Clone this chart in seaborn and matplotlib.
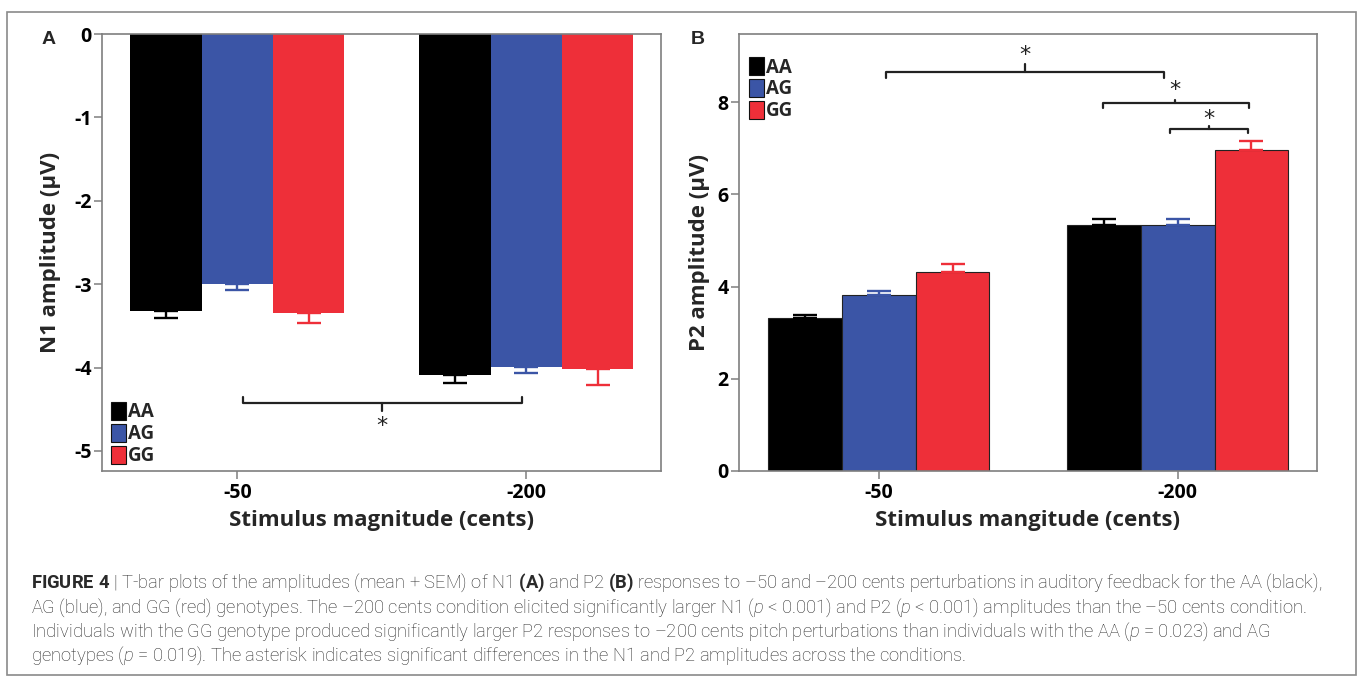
import numpy as np
import pandas as pd
import matplotlib
matplotlib.use("Agg")
import matplotlib.pyplot as plt
from matplotlib.patches import Patch, Rectangle
import seaborn as sns

# ---------------- data ----------------
conditions = ["-50", "-200"]
genotypes = ["AA", "AG", "GG"]
colors = ["#000000", "#3B55A6", "#EE2F39"]

n1_AA = [-3.32, -4.09]
n1_AG = [-3.00, -3.99]
n1_GG = [-3.34, -4.02]
n1_sem_AA = [0.08, 0.10]
n1_sem_AG = [0.07, 0.08]
n1_sem_GG = [0.13, 0.19]

p2_AA = [3.31, 5.33]
p2_AG = [3.81, 5.33]
p2_GG = [4.31, 6.96]
p2_sem_AA = [0.08, 0.13]
p2_sem_AG = [0.09, 0.13]
p2_sem_GG = [0.17, 0.20]

n1_yticks = [0, -1, -2, -3, -4, -5]
n1_ytick_labels = ["0", "-1", "-2", "-3", "-4", "-5"]
p2_yticks = [0, 2, 4, 6, 8]
p2_ytick_labels = ["0", "2", "4", "6", "8"]

caption_lines = [
    r"$\mathbf{FIGURE\ 4}$ | T-bar plots of the amplitudes (mean + SEM) of N1 $\mathbf{(A)}$ and P2 $\mathbf{(B)}$ responses to –50 and –200 cents perturbations in auditory feedback for the AA (black),",
    r"AG (blue), and GG (red) genotypes. The –200 cents condition elicited significantly larger N1 ($\mathit{p}$ < 0.001) and P2 ($\mathit{p}$ < 0.001) amplitudes than the –50 cents condition.",
    r"Individuals with the GG genotype produced significantly larger P2 responses to –200 cents pitch perturbations than individuals with the AA ($\mathit{p}$ = 0.023) and AG",
    r"genotypes ($\mathit{p}$ = 0.019). The asterisk indicates significant differences in the N1 and P2 amplitudes across the conditions.",
]

n1_df = pd.DataFrame({
    "condition": conditions * 3,
    "genotype": [g for g in genotypes for _ in conditions],
    "value": n1_AA + n1_AG + n1_GG,
})
p2_df = pd.DataFrame({
    "condition": conditions * 3,
    "genotype": [g for g in genotypes for _ in conditions],
    "value": p2_AA + p2_AG + p2_GG,
})
n1_sems = {"AA": n1_sem_AA, "AG": n1_sem_AG, "GG": n1_sem_GG}
p2_sems = {"AA": p2_sem_AA, "AG": p2_sem_AG, "GG": p2_sem_GG}

# ---------------- style ----------------
sns.set_theme(style="white")
plt.rcParams["font.family"] = ["Open Sans", "DejaVu Sans"]
plt.rcParams["mathtext.fontset"] = "custom"
plt.rcParams["mathtext.rm"] = "Roboto:light"
plt.rcParams["mathtext.it"] = "Roboto:italic:light"
plt.rcParams["mathtext.bf"] = "Roboto:bold"

W, H = 1360, 676
fig = plt.figure(figsize=(W / 100, H / 100), dpi=100)

def px_axes(x0, y0, x1, y1):
    return fig.add_axes([x0 / W, 1 - y1 / H, (x1 - x0) / W, (y1 - y0) / H])

axA = px_axes(102, 34, 661, 471)
axB = px_axes(739, 34, 1317, 471)

palette = dict(zip(genotypes, colors))

def draw(ax, df, sems, edge):
    sns.barplot(data=df, x="condition", y="value", hue="genotype",
                order=conditions, hue_order=genotypes, palette=palette,
                saturation=1, width=0.74, errorbar=None, legend=False, ax=ax,
                edgecolor=edge, linewidth=0.8 if edge != "none" else 0)
    for cont, g in zip(ax.containers, genotypes):
        for bar, s in zip(cont, sems[g]):
            xc = bar.get_x() + bar.get_width() / 2
            h = bar.get_y() + bar.get_height()
            yerr = [[0], [s]] if h >= 0 else [[s], [0]]
            ax.errorbar([xc], [h], yerr=yerr, fmt="none", ecolor=palette[g],
                        elinewidth=1.7, capsize=8.5, capthick=1.7, zorder=3)

def style(ax, yticks, ylabels, ylim, ylab, xlab, ylab_x):
    ax.set_xlim(-0.468, 1.466)
    ax.set_ylim(*ylim)
    ax.set_yticks(yticks)
    ax.set_yticklabels(ylabels)
    ax.set_xticks([0, 1])
    ax.set_xticklabels(conditions)
    for sp in ax.spines.values():
        sp.set_visible(True)
        sp.set_color("#7f7f7f")
        sp.set_linewidth(1.2)
    ax.tick_params(axis="both", direction="out", length=6, width=1.1,
                   color="#7f7f7f", labelsize=14, pad=1.5, labelcolor="black")
    ax.tick_params(axis="x", pad=3)
    ax.tick_params(left=True, bottom=True)
    for lab in ax.get_xticklabels() + ax.get_yticklabels():
        lab.set_fontweight("bold")
    ax.set_ylabel(ylab, fontsize=16, fontweight="bold")
    ax.set_xlabel(xlab, fontsize=16, fontweight="bold")
    ax.yaxis.set_label_coords(ylab_x, 0.5)
    ax.xaxis.set_label_coords(0.5, -0.114)
    ax.xaxis.label.set_va("center")
    ax.yaxis.label.set_va("center")
    ax.grid(False)

draw(axA, n1_df, n1_sems, "none")
draw(axB, p2_df, p2_sems, "#222222")

style(axA, n1_yticks, n1_ytick_labels, (-5.24, 0), "N1 amplitude (µV)",
      "Stimulus magnitude (cents)", -0.093)
style(axB, p2_yticks, p2_ytick_labels, (0, 9.48), "P2 amplitude (µV)",
      "Stimulus mangitude (cents)", -0.069)

# legends
def legend(ax, anchor):
    handles = [Patch(facecolor=c, edgecolor="#111111", linewidth=0.8, label=g)
               for g, c in zip(genotypes, colors)]
    leg = ax.legend(handles=handles, loc="upper left", bbox_to_anchor=anchor,
                    frameon=False, handlelength=0.8, handleheight=1.1,
                    handletextpad=0.12, labelspacing=0.08, borderpad=0,
                    borderaxespad=0, prop={"weight": "bold", "size": 13.5})
    return leg

legend(axA, (0.016, 0.158))
legend(axB, (0.017, 0.947))

# significance brackets
def bracket(ax, x0, x1, xc, y, yend, ytip, star_y):
    ax.plot([x0, x0, x1, x1], [yend, y, y, yend], color="#222222", lw=1.6,
            solid_joinstyle="round", solid_capstyle="round", zorder=4)
    ax.plot([xc, xc], [y, ytip], color="#222222", lw=1.6, zorder=4)
    ax.text(xc, star_y, "*", ha="center", va="center", fontsize=16,
            fontweight="normal", family="DejaVu Sans", color="#222222")

bracket(axA, 0.021, 0.986, 0.502, -4.43, -4.35, -4.52, -4.70)
bracket(axB, 0.023, 0.955, 0.49, 8.66, 8.53, 8.83, 9.02)
bracket(axB, 0.749, 1.238, 0.991, 7.99, 7.88, 8.04, 8.27)
bracket(axB, 0.974, 1.236, 1.105, 7.41, 7.34, 7.49, 7.64)

# panel letters
fig.text(42 / W, 1 - 39 / H, "A", fontsize=14, fontweight="bold",
         family=["Liberation Sans", "DejaVu Sans"], va="center", ha="left")
fig.text(691 / W, 1 - 39 / H, "B", fontsize=14, fontweight="bold",
         family=["Liberation Sans", "DejaVu Sans"], va="center", ha="left")

# caption
baselines = [588, 613, 637, 661]
for line, yb in zip(caption_lines, baselines):
    fig.text(31 / W, 1 - yb / H, line, fontsize=13.2, fontweight="light",
             family=["Roboto", "DejaVu Sans"], va="baseline",
             ha="left", color="#2a2a2a")

# outer border
fig.add_artist(Rectangle((7 / W, 1 - 675 / H), (1356 - 7) / W, (675 - 12) / H,
                         transform=fig.transFigure, fill=False,
                         edgecolor="#8a8a8a", linewidth=1.2))

fig.savefig("out.png", dpi=100)
